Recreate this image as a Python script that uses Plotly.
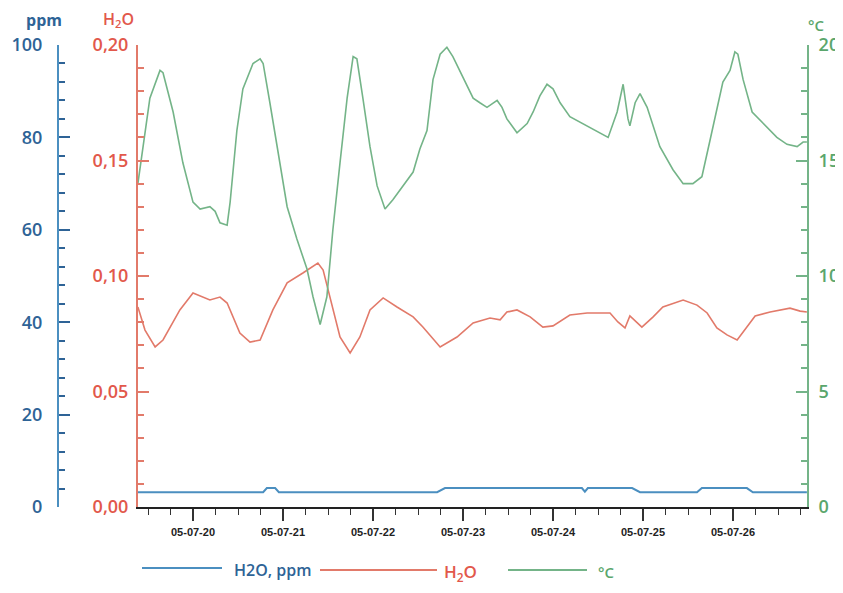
import pandas as pd
import plotly.graph_objects as go

# ---------------- data (hours relative to 2005-07-20 00:00) ----------------
temp_hours = [-14.7, -11.5, -8.8, -8.0, -5.3, -2.7, 0.0, 1.9, 4.5, 5.9,
              7.2, 9.1, 9.9, 11.7, 13.3, 16.0, 17.9, 18.7, 20.5, 23.2,
              25.1, 27.7, 30.4, 32.0, 33.9, 35.7, 37.3, 39.2, 41.1, 42.7,
              43.7, 45.3, 47.2, 49.1, 51.2, 53.3, 56.0, 58.7, 60.5, 62.4,
              64.0, 65.9, 67.7, 69.3, 72.0, 74.7, 76.5, 78.4, 81.1, 82.4,
              83.7, 86.4, 89.1, 90.7, 92.5, 94.4, 96.0, 97.9, 100.5, 105.1,
              108.5, 110.7, 113.1, 114.7, 116.0, 116.5, 117.9, 119.2, 121.1, 124.5,
              128.0, 130.7, 133.3, 135.7, 137.9, 139.7, 141.3, 143.2, 144.5, 145.3,
              146.7, 149.1, 152.0, 155.7, 158.4, 161.1, 162.7, 163.7]
temp_c = [14.0, 17.7, 18.9, 18.8, 17.1, 14.9, 13.2, 12.9, 13.0, 12.8,
          12.3, 12.2, 13.2, 16.3, 18.1, 19.2, 19.4, 19.2, 17.5, 14.9,
          13.0, 11.6, 10.3, 9.1, 7.9, 9.1, 12.0, 14.9, 17.7, 19.5,
          19.4, 17.7, 15.6, 13.9, 12.9, 13.3, 13.9, 14.5, 15.5, 16.3,
          18.5, 19.6, 19.9, 19.5, 18.6, 17.7, 17.5, 17.3, 17.6, 17.3,
          16.8, 16.2, 16.6, 17.1, 17.8, 18.3, 18.1, 17.5, 16.9, 16.5,
          16.2, 16.0, 17.1, 18.3, 16.8, 16.5, 17.5, 17.9, 17.3, 15.6,
          14.6, 14.0, 14.0, 14.3, 15.9, 17.3, 18.4, 18.9, 19.7, 19.6,
          18.5, 17.1, 16.6, 16.0, 15.7, 15.6, 15.8, 15.8]

h2o_hours = [-14.7, -12.8, -10.1, -8.0, -3.5, 0.0, 4.5, 7.2, 9.1, 12.5,
             15.2, 17.9, 21.3, 25.1, 29.3, 33.3, 34.7, 36.5, 39.2, 41.9,
             44.5, 47.2, 50.7, 54.4, 58.7, 61.3, 65.9, 70.4, 74.7, 79.2,
             81.9, 83.7, 86.4, 89.9, 93.3, 96.0, 100.5, 105.1, 111.2, 113.3,
             115.2, 116.5, 119.7, 122.7, 125.3, 130.7, 134.4, 137.1, 139.7, 142.4,
             145.1, 147.7, 149.9, 153.9, 159.2, 161.9, 163.7]
h2o_val = [0.0866, 0.0766, 0.0693, 0.0723, 0.0853, 0.0926, 0.0896, 0.0909, 0.0883, 0.0753,
           0.0714, 0.0723, 0.0853, 0.0970, 0.1013, 0.1056, 0.1026, 0.0909, 0.0736, 0.0667,
           0.0736, 0.0853, 0.0905, 0.0866, 0.0823, 0.0779, 0.0693, 0.0736, 0.0797, 0.0818,
           0.0810, 0.0844, 0.0853, 0.0823, 0.0779, 0.0784, 0.0831, 0.0840, 0.0840, 0.0801,
           0.0775, 0.0827, 0.0779, 0.0823, 0.0866, 0.0896, 0.0874, 0.0840, 0.0775, 0.0745,
           0.0723, 0.0779, 0.0827, 0.0844, 0.0861, 0.0848, 0.0844]

ppm_hours = [-14.7, 18.7, 19.7, 21.9, 22.9, 65.1, 67.2, 103.7, 104.5, 105.3,
             117.1, 119.2, 134.4, 135.7, 147.7, 149.3, 163.7]
ppm_val = [3.2, 3.2, 4.1, 4.1, 3.2, 3.2, 4.1, 4.1, 3.3, 4.1,
           4.1, 3.2, 3.2, 4.1, 4.1, 3.2, 3.2]

x_start, x_end = "2005-07-19 09:20", "2005-07-26 19:44"
legend_names = ["H2O, ppm", "H<sub>2</sub>O", "°C"]

# ---------------- styling ----------------
BLUE_TXT, BLUE_LN = "#2e6396", "#4b8fc0"
RED_TXT, RED_LN = "#e2584b", "#e27a6a"
GRN_TXT, GRN_LN = "#5aa66c", "#74b488"
FONT = "Open Sans, Noto Sans, sans-serif"

base = pd.Timestamp("2005-07-20")
def ts(hours):
    return base + pd.to_timedelta(hours, unit="h")

# the page body has an 8px margin, so the figure is drawn offset by 8px
OFF = 8
W, H = 843 - OFF, 593 - OFF
PL, PR, PT, PB = 138 - OFF, 807 - OFF, 45 - OFF, 507 - OFF   # plot area in figure px
ML, MR, MT, MB = 42, W - PR, PT, H - PB
PW, PH = W - ML - MR, H - MT - MB
def fx(ref_px):
    return (ref_px - OFF - ML) / PW
def fy(ref_py):
    return (H - MB - (ref_py - OFF)) / PH

fig = go.Figure()
fig.add_trace(go.Scatter(x=ts(ppm_hours), y=ppm_val, yaxis="y3", mode="lines",
                         line=dict(color=BLUE_LN, width=2), name=legend_names[0], showlegend=False))
fig.add_trace(go.Scatter(x=ts(h2o_hours), y=h2o_val, yaxis="y", mode="lines",
                         line=dict(color=RED_LN, width=1.6),
                         name=legend_names[1], showlegend=False))
fig.add_trace(go.Scatter(x=ts(temp_hours), y=temp_c, yaxis="y2", mode="lines",
                         line=dict(color=GRN_LN, width=1.6),
                         name=legend_names[2], showlegend=False))

tickfont_common = dict(family=FONT, size=18, weight=600)

fig.update_layout(
    width=W, height=H, margin=dict(l=ML, r=MR, t=MT, b=MB, autoexpand=False),
    paper_bgcolor="white", plot_bgcolor="white",
    separators=",.",
    xaxis=dict(domain=[fx(138), 1], range=[x_start, x_end], type="date",
               showgrid=False, zeroline=False, automargin=False,
               showline=True, linecolor="#222", linewidth=2,
               ticks="outside", ticklen=12, tickwidth=1.5, tickcolor="#333",
               tick0="2005-07-20", dtick=86400000, tickformat="%y-%m-%d",
               tickfont=dict(family="Liberation Sans Narrow, Arial Narrow, sans-serif", size=11,
                             color="#222", weight=600),
               ticklabelstandoff=2,
               minor=dict(ticks="outside", ticklen=6, dtick=21600000, tickcolor="#333", tickwidth=1)),
    yaxis=dict(range=[0, 0.2], dtick=0.05, tickformat=".2f", showgrid=False, zeroline=False,
               showline=True, linecolor=RED_LN, linewidth=2, anchor="x", side="left", automargin=False,
               ticks="inside", ticklen=11, tickwidth=2, tickcolor=RED_LN,
               tickfont=dict(color=RED_TXT, **tickfont_common), ticklabelstandoff=4,
               minor=dict(ticks="inside", ticklen=6, dtick=0.01, tickcolor=RED_LN, tickwidth=1.5)),
    yaxis2=dict(range=[0, 20], dtick=5, overlaying="y", side="right", anchor="x", automargin=False,
                showgrid=False, zeroline=False,
                showline=True, linecolor=GRN_LN, linewidth=2,
                ticks="inside", ticklen=11, tickwidth=2, tickcolor=GRN_LN,
                tickfont=dict(color=GRN_TXT, **tickfont_common), ticklabelstandoff=6,
                minor=dict(ticks="inside", ticklen=6, dtick=1, tickcolor=GRN_LN, tickwidth=1.5)),
    yaxis3=dict(range=[0, 100], dtick=20, overlaying="y", side="left", anchor="free", automargin=False,
                position=fx(58), showgrid=False, zeroline=False,
                showline=True, linecolor=BLUE_LN, linewidth=2,
                ticks="inside", ticklen=11, tickwidth=2, tickcolor=BLUE_TXT,
                tickfont=dict(color=BLUE_TXT, **tickfont_common), ticklabelstandoff=11,
                minor=dict(ticks="inside", ticklen=6, dtick=4, tickcolor=BLUE_TXT, tickwidth=1.5)),
    showlegend=False,
)

# axis titles
ann = [
    dict(text="ppm", x=fx(44), y=fy(20), font=dict(family=FONT, size=16, weight=700, color=BLUE_TXT)),
    dict(text="H<sub>2</sub>O", x=fx(118), y=fy(19), font=dict(family=FONT, size=16, weight=600, color=RED_TXT)),
    dict(text="°C", x=fx(816), y=fy(25), font=dict(family=FONT, size=15, weight=600, color=GRN_TXT)),
]
for a in ann:
    fig.add_annotation(xref="paper", yref="paper", showarrow=False, xanchor="center", yanchor="middle", **a)

# custom legend with long line samples
legend_items = [
    (142, 222, 568, 232, legend_names[0], BLUE_LN, BLUE_TXT, 16),
    (320, 437, 570, 442, legend_names[1], RED_LN, RED_TXT, 17),
    (508, 587, 570, 596, legend_names[2], GRN_LN, GRN_TXT, 15),
]
for x0, x1, yy, xt, txt, lc, tc, fs in legend_items:
    fig.add_shape(type="line", xref="paper", yref="paper", x0=fx(x0), x1=fx(x1), y0=fy(yy), y1=fy(yy),
                  line=dict(color=lc, width=2))
    fig.add_annotation(xref="paper", yref="paper", x=fx(xt), y=fy(yy + 2), text=txt, showarrow=False,
                       xanchor="left", yanchor="middle",
                       font=dict(family=FONT, size=fs, weight=600, color=tc))

fig.write_html("out.html")
